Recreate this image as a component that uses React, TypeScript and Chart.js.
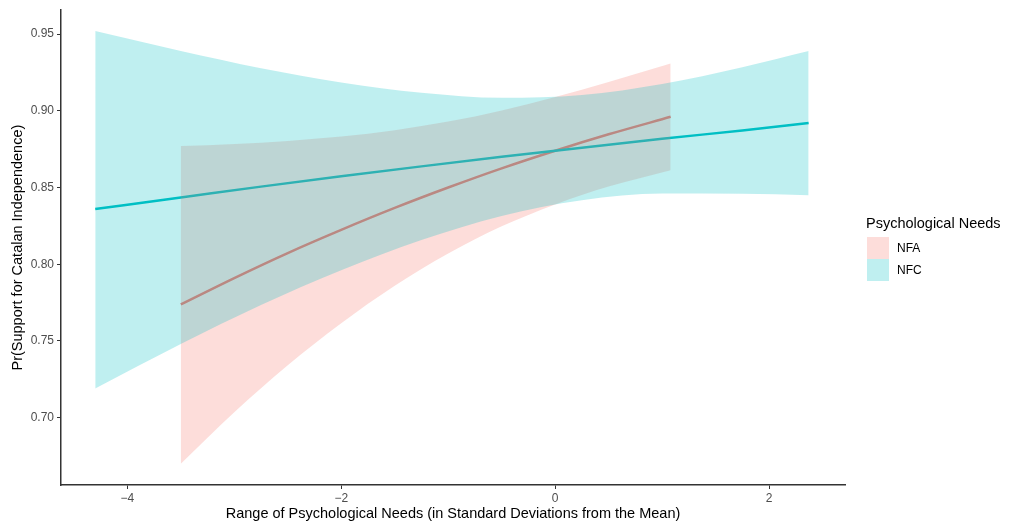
import React, { useEffect, useRef } from "react";
import { Chart, registerables } from "chart.js";

Chart.register(...registerables);

// NFA (Need for Affiliation) series
const nfaX = [-3.5, -3, -2.5, -2, -1.5, -1, -0.5, 0, 0.5, 1.08];
const nfaFit = [0.7738, 0.791, 0.8073, 0.8224, 0.8367, 0.85, 0.8625, 0.874, 0.8847, 0.8961];
const nfaLow = [0.670, 0.7036, 0.7342, 0.7616, 0.786, 0.807, 0.8247, 0.839, 0.8506, 0.8613];
const nfaHigh = [0.877, 0.8784, 0.8804, 0.8832, 0.8874, 0.893, 0.9003, 0.909, 0.9188, 0.9309];

// NFC (Need for Closure) series
const nfcX = [-4.3, -3.5, -2.75, -2, -1.25, -0.5, 0.25, 1, 1.75, 2.37];
const nfcFit = [0.836, 0.8435, 0.8506, 0.8573, 0.8638, 0.87, 0.876, 0.8818, 0.8872, 0.892];
const nfcLow = [0.719, 0.748, 0.7734, 0.7961, 0.8158, 0.8315, 0.8417, 0.8461, 0.846, 0.845];
const nfcHigh = [0.952, 0.939, 0.9278, 0.9185, 0.9118, 0.9085, 0.9103, 0.9175, 0.9284, 0.939];

const xTicks = [-4, -2, 0, 2];
const yTicks = [0.7, 0.75, 0.8, 0.85, 0.9, 0.95];

const legendTitle = "Psychological Needs";
const legendLabels = ["NFA", "NFC"];

const NFA_LINE = "#F8766D";
const NFC_LINE = "#00BFC4";
const NFA_FILL = "rgba(248,118,109,0.25)";
const NFC_FILL = "rgba(0,191,196,0.25)";

const FONT = "'Liberation Sans', Arial, Helvetica, sans-serif";

const pts = (xs: number[], ys: number[]) => xs.map((x, i) => ({ x, y: ys[i] }));

export default function App() {
  const ref = useRef<HTMLCanvasElement | null>(null);

  useEffect(() => {
    if (!ref.current) return;
    const common = {
      pointRadius: 0,
      cubicInterpolationMode: "monotone" as const,
    };
    const chart = new Chart(ref.current, {
      type: "line",
      data: {
        datasets: [
          { ...common, data: pts(nfaX, nfaFit), borderColor: NFA_LINE, borderWidth: 2.5, fill: false, order: 10 },
          { ...common, data: pts(nfcX, nfcFit), borderColor: NFC_LINE, borderWidth: 2.5, fill: false, order: 9 },
          { ...common, data: pts(nfaX, nfaLow), borderWidth: 0, borderColor: "rgba(0,0,0,0)", fill: false, order: 8 },
          { ...common, data: pts(nfaX, nfaHigh), borderWidth: 0, borderColor: "rgba(0,0,0,0)", backgroundColor: NFA_FILL, fill: { target: 2 }, order: 7 },
          { ...common, data: pts(nfcX, nfcLow), borderWidth: 0, borderColor: "rgba(0,0,0,0)", fill: false, order: 6 },
          { ...common, data: pts(nfcX, nfcHigh), borderWidth: 0, borderColor: "rgba(0,0,0,0)", backgroundColor: NFC_FILL, fill: { target: 4 }, order: 5 },
        ],
      },
      options: {
        responsive: false,
        animation: false,
        events: [],
        layout: { padding: { top: 10, right: 169, bottom: 0, left: 0 } },
        plugins: {
          legend: { display: false },
          tooltip: { enabled: false },
          filler: { propagate: false },
        },
        scales: {
          x: {
            type: "linear",
            min: -4.62,
            max: 2.71,
            afterBuildTicks: (s: any) => {
              s.ticks = xTicks.map((v) => ({ value: v }));
            },
            afterFit: (s: any) => {
              s.height = 40;
            },
            border: { display: true, color: "#333", width: 1.5 },
            grid: { display: true, drawOnChartArea: false, drawTicks: true, tickLength: 4, color: "#333", lineWidth: 1 },
            ticks: {
              color: "#4D4D4D",
              font: { family: FONT, size: 12 },
              padding: 2,
              maxRotation: 0,
              callback: (v: any) => (Number(v) < 0 ? "\u2212" + Math.abs(Number(v)) : String(v)),
            },
            title: {
              display: true,
              text: "Range of Psychological Needs (in Standard Deviations from the Mean)",
              color: "#000",
              font: { family: FONT, size: 14.5 },
              padding: { top: 0, bottom: 2 },
            },
          },
          y: {
            type: "linear",
            min: 0.6561,
            max: 0.9656,
            afterBuildTicks: (s: any) => {
              s.ticks = yTicks.map((v) => ({ value: v }));
            },
            afterFit: (s: any) => {
              s.width = 61;
            },
            border: { display: true, color: "#333", width: 1.5 },
            grid: { display: true, drawOnChartArea: false, drawTicks: true, tickLength: 4, color: "#333", lineWidth: 1 },
            ticks: {
              color: "#4D4D4D",
              font: { family: FONT, size: 12 },
              padding: 3,
              callback: (v: any) => Number(v).toFixed(2),
            },
            title: {
              display: true,
              text: "Pr(Support for Catalan Independence)",
              color: "#000",
              font: { family: FONT, size: 14.5 },
              padding: { top: 9, bottom: 0 },
            },
          },
        },
      },
    });
    return () => chart.destroy();
  }, []);

  const keyBox = (bg: string): React.CSSProperties => ({
    position: "absolute",
    left: 867,
    width: 22,
    height: 22,
    background: bg,
  });
  const keyText: React.CSSProperties = {
    position: "absolute",
    left: 897,
    fontFamily: FONT,
    fontSize: 12,
    color: "#000",
    lineHeight: "22px",
    height: 22,
  };

  return (
    <div style={{ position: "absolute", left: 0, top: 0, width: 1014, height: 525, background: "#fff" }}>
      <canvas ref={ref} width={1014} height={525} style={{ display: "block", width: 1014, height: 525 }} />
      <div
        style={{
          position: "absolute",
          left: 866,
          top: 213,
          fontFamily: FONT,
          fontSize: 14.5,
          lineHeight: "20px",
          color: "#000",
          whiteSpace: "nowrap",
        }}
      >
        {legendTitle}
      </div>
      <div style={{ ...keyBox(NFA_FILL), top: 237 }} />
      <div style={{ ...keyText, top: 237 }}>{legendLabels[0]}</div>
      <div style={{ ...keyBox(NFC_FILL), top: 259 }} />
      <div style={{ ...keyText, top: 259 }}>{legendLabels[1]}</div>
    </div>
  );
}
